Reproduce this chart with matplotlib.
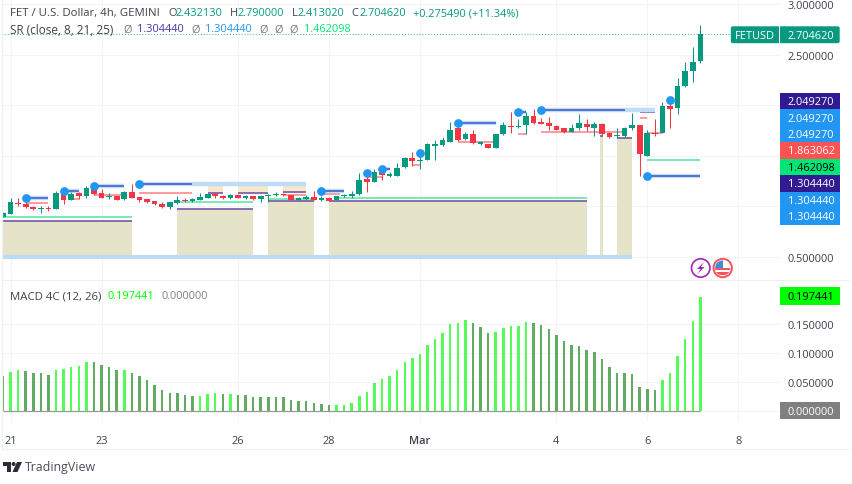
import numpy as np
import matplotlib
matplotlib.use('Agg')
import matplotlib.pyplot as plt
from matplotlib.patches import Rectangle, Circle, Polygon, FancyBboxPatch

plt.rcParams['font.family'] = ['Open Sans', 'DejaVu Sans']

#candles, one every 4h
opens = [0.892, 0.922, 1.037, 1.024, 0.998, 0.974, 0.987, 0.971, 1.132, 1.06, 1.129, 1.106, 1.192, 1.132, 1.093, 1.103,
	1.073, 1.146, 1.09, 1.07, 1.05, 1.024, 0.991, 1.03, 1.067, 1.057, 1.067, 1.086, 1.126, 1.106, 1.086, 1.116,
	1.086, 1.1, 1.073, 1.1, 1.113, 1.119, 1.113, 1.067, 1.073, 1.096, 1.063, 1.08, 1.067, 1.1, 1.106, 1.119,
	1.271, 1.244, 1.337, 1.304, 1.304, 1.386, 1.475, 1.452, 1.458, 1.6, 1.607, 1.64, 1.775, 1.669, 1.715, 1.617,
	1.613, 1.577, 1.712, 1.798, 1.788, 1.804, 1.893, 1.831, 1.824, 1.798, 1.771, 1.738, 1.778, 1.814, 1.775, 1.817,
	1.722, 1.699, 1.699, 1.771, 1.804, 1.501, 1.725, 1.722, 1.989, 1.969, 2.186, 2.335, 2.432]
closes = [0.931, 1.047, 1.024, 0.991, 0.971, 0.984, 0.974, 1.129, 1.06, 1.119, 1.106, 1.185, 1.123, 1.086, 1.106, 1.067,
	1.146, 1.086, 1.067, 1.047, 1.02, 0.991, 1.04, 1.063, 1.057, 1.07, 1.093, 1.123, 1.106, 1.08, 1.116, 1.086,
	1.103, 1.073, 1.103, 1.113, 1.123, 1.113, 1.063, 1.083, 1.093, 1.063, 1.086, 1.057, 1.103, 1.113, 1.123, 1.261,
	1.238, 1.337, 1.31, 1.317, 1.379, 1.475, 1.452, 1.458, 1.613, 1.617, 1.653, 1.758, 1.656, 1.715, 1.623, 1.633,
	1.577, 1.715, 1.804, 1.788, 1.798, 1.893, 1.821, 1.817, 1.798, 1.758, 1.735, 1.778, 1.824, 1.781, 1.814, 1.712,
	1.686, 1.709, 1.778, 1.804, 1.514, 1.725, 1.715, 1.989, 1.962, 2.193, 2.335, 2.424, 2.7046]
highs = [0.948, 1.083, 1.083, 1.04, 1.007, 1.0, 1.0, 1.149, 1.172, 1.139, 1.146, 1.205, 1.231, 1.172, 1.132, 1.106,
	1.152, 1.221, 1.093, 1.073, 1.053, 1.04, 1.04, 1.099, 1.083, 1.08, 1.132, 1.13, 1.139, 1.113, 1.126, 1.12,
	1.113, 1.106, 1.113, 1.123, 1.139, 1.129, 1.113, 1.09, 1.113, 1.149, 1.1, 1.093, 1.106, 1.123, 1.155, 1.33,
	1.36, 1.37, 1.37, 1.337, 1.429, 1.491, 1.534, 1.551, 1.626, 1.659, 1.682, 1.83, 1.83, 1.738, 1.752, 1.646,
	1.617, 1.715, 1.837, 1.936, 1.864, 1.93, 1.96, 1.87, 1.88, 1.804, 1.778, 1.811, 1.91, 1.864, 1.831, 1.824,
	1.738, 1.771, 1.788, 1.923, 1.804, 1.752, 1.864, 2.035, 2.03, 2.265, 2.43, 2.578, 2.79]
lows = [0.892, 0.92, 1.007, 0.984, 0.968, 0.935, 0.958, 0.971, 1.027, 1.06, 1.073, 1.086, 1.113, 1.08, 1.073, 1.063,
	1.067, 1.08, 1.047, 1.03, 1.017, 0.988, 0.978, 1.027, 1.04, 1.04, 1.06, 1.086, 1.086, 1.073, 1.073, 1.083,
	1.073, 1.067, 1.047, 1.047, 1.1, 1.106, 1.06, 1.063, 1.067, 1.06, 1.057, 1.05, 1.063, 1.09, 1.08, 1.113,
	1.139, 1.244, 1.258, 1.287, 1.297, 1.379, 1.402, 1.37, 1.458, 1.462, 1.6, 1.64, 1.65, 1.653, 1.617, 1.607,
	1.573, 1.577, 1.705, 1.73, 1.77, 1.715, 1.817, 1.81, 1.758, 1.752, 1.728, 1.732, 1.758, 1.748, 1.692, 1.705,
	1.679, 1.673, 1.682, 1.758, 1.297, 1.501, 1.692, 1.722, 1.771, 1.913, 2.177, 2.233, 2.413]

#macd histogram, 1 = rising (bright), 0 = falling (dull)
macd_vals = [.0609, .0672, .0707, .0695, .0661, .0649, .0621, .0707, .0718, .0764, .0776, .0839, .0839, .0799, .0764, .0707,
	.0707, .0661, .0598, .0529, .0454, .0351, .0305, .0299, .0270, .0264, .0264, .0293, .0305, .0287, .0293, .0270,
	.0270, .0236, .0236, .0230, .0230, .0230, .0184, .0172, .0161, .0126, .0115, .0098, .0103, .0103, .0126, .0247,
	.0328, .0477, .0546, .0598, .0701, .0839, .0920, .0977, .1132, .1241, .1356, .1511, .1529, .1575, .1523, .1454,
	.1356, .1368, .1431, .1466, .1477, .1540, .1523, .1489, .1425, .1322, .1207, .1144, .1115, .1052, .1011, .0897,
	.0764, .0661, .0649, .0644, .0408, .0374, .0351, .0540, .0661, .0943, .1253, .1552, .197441]
macd_up = [0, 1, 1, 0, 0, 0, 0, 1, 1, 1, 1, 1, 0, 0, 0, 0,
	1, 0, 0, 0, 0, 0, 0, 0, 0, 0, 1, 1, 1, 0, 1, 0,
	0, 0, 0, 0, 0, 0, 0, 0, 0, 0, 0, 0, 1, 1, 1, 1,
	1, 1, 1, 1, 1, 1, 1, 1, 1, 1, 1, 1, 1, 1, 0, 0,
	0, 1, 1, 1, 1, 1, 0, 0, 0, 0, 0, 0, 0, 0, 0, 0,
	0, 0, 0, 0, 0, 0, 0, 1, 1, 1, 1, 1, 1]

#support/resistance levels: (first candle, last candle, price)
dot_levels = [(3, 6, 1.083), (8, 10, 1.155), (12, 16, 1.205), (18, 25, 1.225), (42, 45, 1.149), (48, 48, 1.33),
	(50, 51, 1.37), (55, 55, 1.524), (60, 65, 1.824), (68, 69, 1.933), (71, 82, 1.956), (85, 92, 1.304), (88, 88, 2.049)]
halo_ends = [6, 10, 16, 40, 45, 48, 51, 55, 65, 69, 86, 92, 88]
red_levels = [(3, 6, 1.03), (9, 10, 1.073), (12, 16, 1.109), (18, 25, 1.132), (37, 40, 1.116), (42, 44.5, 1.125),
	(48, 50, 1.294), (54, 55, 1.406), (60, 65, 1.633), (68, 69, 1.715), (71, 82, 1.732), (84, 85, 1.87), (85, 87, 1.725)]
green_levels = [(0, 17, 0.895), (23, 33, 1.04), (35, 41, 1.07), (44, 77, 1.08), (85, 92, 1.462)]
support_zones = [(0, 17, 0.852), (23, 33, 0.974), (35, 41, 1.05), (43, 77, 1.057), (78.7, 79.2, 1.692), (81, 83, 1.679)]
resist_zones = [(27, 29, 1.225, 1.132), (31, 35, 1.225, 1.132), (37, 40, 1.225, 1.146), (84, 86, 1.956, 1.93)]
zone_floor = 0.5

price_ticks = [3.0, 2.5, 2.0, 1.5, 1.0, 0.5]
price_labels = ['3.000000', '2.500000', '', '', '', '0.500000']
macd_ticks = [0.0, 0.05, 0.1, 0.15]
macd_labels = ['', '0.050000', '0.100000', '0.150000']
date_ticks = [1, 13, 31, 43, 55, 73, 85, 97]
date_labels = ['21', '23', '26', '28', 'Mar', '4', '6', '8']

#stacked price tags on the right
tag_values = ['2.049270', '2.049270', '2.049270', '1.863062', '1.462098', '1.304440', '1.304440', '1.304440']
tag_fills = ['#311b92', '#2196f3', '#2196f3', '#ff5252', '#00e676', '#311b92', '#2196f3', '#2196f3']
tag_texts = ['white', 'white', 'white', 'white', 'black', 'white', 'white', 'white']

GREEN = '#089981'
RED = '#f23645'
GRID = '#f3f4f8'
TEXT = '#3f424c'
W, H = 852, 485

fig = plt.figure(figsize=(W/100, H/100), dpi=100)
ax = fig.add_axes([2/W, 1-281/H, 777/W, 281/H])
ax1 = fig.add_axes([2/W, 1-423/H, 777/W, 142/H])

xs = np.arange(len(opens))
for a in (ax, ax1):
	a.set_xlim(-0.13, 102.37)
	a.grid(True, color=GRID, lw=0.8)
	a.set_axisbelow(True)
	a.yaxis.tick_right()
	a.set_xticks(date_ticks)
	a.tick_params(length=0, labelsize=7.9, labelcolor=TEXT, pad=6.3)
	for s in a.spines.values():
		s.set_visible(False)

#price pane
ax.set_ylim(0.2727, 3.049)
ax.set_yticks(price_ticks)
ax.set_yticklabels(price_labels)
ax.tick_params(axis='x', labelbottom=False)

#zones
for x0, x1, top in support_zones:
	ax.fill_between([x0, x1], zone_floor, top, color='#e5e4c9', lw=0, zorder=1)
	ax.hlines(top, x0, x1, color='#7e62ad', lw=1.3, zorder=2)
for x0, x1, top, bot in resist_zones:
	ax.fill_between([x0, x1], bot, top, color='#f6e8cd', lw=0, zorder=1)
	ax.hlines(bot, x0, x1, color='#7e62ad', lw=1.3, zorder=2)
ax.hlines(zone_floor, 0, 83, color='#bcdcf5', lw=3, zorder=2)

for x0, x1, p in green_levels:
	ax.hlines(p, x0, x1, color='#5fe8a5', lw=1.2, zorder=2)
for x0, x1, p in red_levels:
	ax.hlines(p, x0, x1, color='#ff8a8f', lw=1.2, zorder=2)

for (x0, x1, p), end in zip(dot_levels, halo_ends):
	ax.hlines(p, x0, end, color='#bfdcf8', lw=3.2, zorder=2)
	ax.hlines(p, x0, x1, color='#3f62c4', lw=1.2, zorder=2)

#candles
colors = [GREEN if c >= o else RED for o, c in zip(opens, closes)]
ax.vlines(xs, lows, highs, color=colors, lw=0.75, zorder=3)
bottoms = np.minimum(opens, closes)
heights = np.maximum(np.abs(np.array(closes)-np.array(opens)), 0.008)
ax.bar(xs, heights, 0.75, bottom=bottoms, color=colors, lw=0, zorder=3)

ax.plot([p[0] for p in dot_levels], [p[2] for p in dot_levels], 'o', color='#2196f3', ms=6.3, mew=0, zorder=4)
ax.hlines(closes[-1], -0.13, 96, color=GREEN, lw=0.7, linestyles=(0, (1, 2)), alpha=0.8, zorder=2)

#macd pane
ax1.set_ylim(-0.0196, 0.2269)
ax1.set_yticks(macd_ticks)
ax1.set_yticklabels(macd_labels)
ax1.set_xticklabels(date_labels)
ax1.tick_params(axis='x', pad=9.5)
ax1.get_xticklabels()[4].set_fontweight('semibold')
macd_colors = ['#57fb57' if u else '#62ab62' for u in macd_up]
ax1.bar(xs, macd_vals, 0.33, color=macd_colors, lw=0, zorder=3)
ax1.hlines(0, 0, len(xs)-1, color='#9a9a9a', lw=0.9, zorder=4)

#overlay in pixels for legend, tags, logos
ov = fig.add_axes([0, 0, 1, 1])
ov.set_xlim(0, W)
ov.set_ylim(H, 0)
ov.axis('off')
ov.patch.set_alpha(0)

#frame
ov.plot([2, 2], [0, 450], color='#eef0f5', lw=0.9)
ov.plot([2, 848], [450, 450], color='#eef0f5', lw=0.9)
ov.plot([2, 848], [281, 281], color='#eef0f5', lw=0.9)

def legend(items, y):
	for x, s, c, size in items:
		ov.text(x, y, s, color=c, fontsize=size, va='center', ha='left')

legend([(10, 'FET / U.S. Dollar, 4h, GEMINI', TEXT, 8.2), (168, 'O', TEXT, 7.9), (176, '2.432130', GREEN, 7.9),
	(230, 'H', TEXT, 7.9), (238, '2.790000', GREEN, 7.9), (291.5, 'L', TEXT, 7.9), (298, '2.413020', GREEN, 7.9),
	(351, 'C', TEXT, 7.9), (359, '2.704620', GREEN, 7.9), (413, '+0.275490 (+11.34%)', GREEN, 7.9)], 13.5)
legend([(10, 'SR (close, 8, 21, 25)', TEXT, 8.5), (123, '\u00d8', '#777777', 7.9), (137, '1.304440', '#4a35a8', 7.9),
	(191, '\u00d8', '#777777', 7.9), (205, '1.304440', '#2196f3', 7.9), (259, '\u00d8', '#777777', 7.9),
	(274, '\u00d8', '#777777', 7.9), (289, '\u00d8', '#777777', 7.9), (304, '1.462098', '#00e676', 7.9)], 30)
legend([(10, 'MACD 4C (12, 26)', TEXT, 8.2), (107, '0.197441', '#00ff00', 7.9), (161, '0.000000', '#808080', 7.9)], 297)

#last price tag
ov.add_patch(FancyBboxPatch((731.5, 28), 107.5, 15.5, boxstyle='round,pad=0.7,rounding_size=2', fc=GREEN, ec='none'))
ov.plot([779.3, 779.3], [27, 44.3], color='white', lw=0.7)
ov.text(755, 36.2, 'FETUSD', color='white', fontsize=7.9, ha='center', va='center')
ov.text(787.7, 36.2, '2.704620', color='white', fontsize=7.9, ha='left', va='center')

#stacked tags
for i, (t, fc, tc) in enumerate(zip(tag_values, tag_fills, tag_texts)):
	top = 93.5 + i*16.5
	ov.add_patch(Rectangle((780, top), 59.5, 16.5, fc=fc, ec='none'))
	ov.text(787.7, top+9, t, color=tc, fontsize=7.9, ha='left', va='center')

ov.add_patch(Rectangle((779.5, 288.3), 60, 17.4, fc='#00ff00', ec='none'))
ov.text(787.7, 297.5, '0.197441', color='black', fontsize=7.9, ha='left', va='center')
ov.add_patch(Rectangle((779.5, 403), 60, 17.4, fc='#808080', ec='none'))
ov.text(787.7, 412.2, '0.000000', color='white', fontsize=7.9, ha='left', va='center')

#event icons
ov.add_patch(Circle((700.7, 269), 9.2, fc='white', ec='#9c27b0', lw=1.2, zorder=5))
ov.add_patch(Polygon([(704, 263), (697, 270), (700.5, 270), (697.5, 275), (704.5, 268), (701, 268)], fc='#9c27b0', ec='none', zorder=6))
flag = Circle((722.7, 269), 7.6, fc='white', ec='none', zorder=5)
ov.add_patch(flag)
for y0 in (268.5, 273):
	r = Rectangle((714, y0), 18, 2.6, fc='#f7525f', ec='none', zorder=6)
	ov.add_patch(r)
	r.set_clip_path(flag)
r = Rectangle((714, 260), 8.5, 8.5, fc='#3d8fd9', ec='none', zorder=6)
ov.add_patch(r)
r.set_clip_path(flag)
ov.add_patch(Circle((722.7, 269), 9.2, fc='none', ec='#f7525f', lw=1.4, zorder=7))

#tradingview mark
ov.add_patch(Polygon([(3, 463), (11, 463), (11, 473), (7, 473), (7, 467), (3, 467)], fc='#2a2e39', ec='none'))
ov.add_patch(Circle((13.6, 465), 2, fc='#2a2e39', ec='none'))
ov.add_patch(Polygon([(17, 463), (22, 463), (17.5, 473), (12.5, 473)], fc='#2a2e39', ec='none'))
ov.text(25, 468, 'TradingView', color='#4a4d57', fontsize=8.9, ha='left', va='center')

fig.savefig('out.png', dpi=100, facecolor='white')
